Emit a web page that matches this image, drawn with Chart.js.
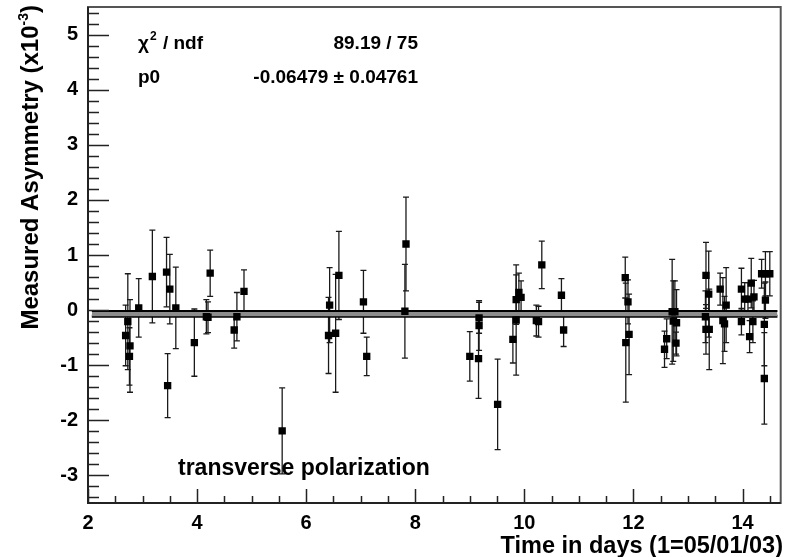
<!DOCTYPE html>
<html>
<head>
<meta charset="utf-8">
<title>Measured Asymmetry vs Time</title>
<script src="https://cdn.jsdelivr.net/npm/chart.js@4/dist/chart.umd.min.js"></script>
<style>
  html, body { margin: 0; padding: 0; background: #fff; }
  #wrap { position: relative; width: 789px; height: 557px; }
</style>
</head>
<body>
<div id="wrap"><canvas id="asym-chart" width="789" height="557"></canvas></div>
<script>
// Measured asymmetry (x10^-3) per run, transverse polarization
const days = [
    2.69, 2.73, 2.77, 2.76, 2.93, 3.18, 3.44, 3.50, 3.46, 3.61,
    3.95, 4.17, 4.20, 4.24, 4.68, 4.73, 4.86, 5.56, 6.43, 6.41,
    6.54, 6.60, 7.05, 7.11, 7.83, 7.81, 9.00, 9.16, 9.17, 9.17,
    9.51, 9.79, 9.85, 9.85, 9.90, 9.94, 10.22, 10.26, 10.32, 10.68,
    10.72, 11.85, 11.86, 11.90, 11.92, 12.57, 12.61, 12.71, 12.73, 12.76,
    12.79, 12.78, 13.33, 13.38, 13.32, 13.33, 13.39, 13.59, 13.64, 13.67,
    13.70, 13.98, 13.98, 14.04, 14.10, 14.16, 14.13, 14.19, 14.21, 14.35,
    14.42, 14.50, 14.42, 14.40, 14.40
];
const asym = [
    -0.46, -0.21, -0.65, -0.84, 0.04, 0.61, 0.69, 0.38, -1.37, 0.04,
    -0.59, -0.12, -0.13, 0.67, -0.36, -0.12, 0.34, -2.19, 0.09, -0.46,
    -0.42, 0.63, 0.15, -0.84, 1.20, -0.02, -0.84, -0.88, -0.14, -0.28,
    -1.71, -0.53, -0.18, 0.19, 0.32, 0.23, -0.19, -0.21, 0.82, 0.27,
    -0.36, 0.59, -0.59, 0.15, -0.44, -0.71, -0.52, -0.03, -0.20, -0.03,
    -0.23, -0.60, 0.63, 0.29, -0.12, -0.35, -0.35, 0.38, -0.19, -0.25,
    0.09, 0.38, -0.21, 0.20, 0.20, 0.49, -0.48, -0.21, 0.24, 0.66,
    0.66, 0.66, 0.18, -0.26, -1.24
];
const asymErr = [
    0.55, 0.87, 0.84, 0.52, 0.53, 0.84, 0.63, 0.63, 0.58, 0.74,
    0.61, 0.31, 0.28, 0.42, 0.33, 0.44, 0.39, 0.78, 0.68, 0.69,
    1.07, 0.80, 0.57, 0.35, 0.85, 0.85, 0.45, 0.72, 0.28, 0.45,
    0.82, 0.43, 1.00, 0.45, 0.35, 0.30, 0.28, 0.28, 0.43, 0.30,
    0.30, 0.37, 1.08, 0.40, 0.73, 0.33, 0.36, 0.95, 0.73, 0.56,
    0.60, 0.20, 0.60, 0.78, 0.47, 0.45, 0.73, 0.29, 0.78, 0.50,
    0.68, 0.38, 0.24, 0.30, 0.30, 0.45, 0.29, 0.38, 0.30, 0.26,
    0.40, 0.40, 0.33, 0.75, 0.83
];

const xTickValues = [2, 4, 6, 8, 10, 12, 14];
const yTickValues = [-3, -2, -1, 0, 1, 2, 3, 4, 5];

// constant fit result
const fitP0 = -0.06479;
const fitP0Err = 0.04761;
const fitRange = [2.07, 14.64];

const FONT = "'Liberation Sans', Arial, Helvetica, sans-serif";
Chart.defaults.font.family = FONT;

/**
 * Vertical error bars with small end caps, ROOT style
 */
const errorBarPlugin = {
    id: 'errorBars',
    beforeDatasetsDraw(chart) {
        const { ctx, chartArea: a, scales: { x, y } } = chart;
        ctx.save();
        ctx.beginPath();
        ctx.rect(a.left, a.top, a.right - a.left, a.bottom - a.top);
        ctx.clip();
        ctx.strokeStyle = '#1a1a1a';
        ctx.lineWidth = 1.3;
        days.forEach((d, i) => {
            const px = x.getPixelForValue(d);
            const top = y.getPixelForValue(asym[i] + asymErr[i]);
            const bot = y.getPixelForValue(asym[i] - asymErr[i]);
            ctx.beginPath();
            ctx.moveTo(px, top);
            ctx.lineTo(px, bot);
            ctx.moveTo(px - 3, top);
            ctx.lineTo(px + 3, top);
            ctx.moveTo(px - 3, bot);
            ctx.lineTo(px + 3, bot);
            ctx.stroke();
        });
        ctx.restore();
    }
};

/**
 * Frame plus inward ticks (ROOT look)
 */
const frameTicksPlugin = {
    id: 'frameTicks',
    afterDatasetsDraw(chart) {
        const { ctx, chartArea: a, scales: { x, y } } = chart;
        ctx.save();
        ctx.strokeStyle = '#222';
        ctx.lineWidth = 1.5;
        ctx.beginPath();
        // y ticks every 0.2, long ones on integers
        for (let k = -17; k <= 27; k++) {
            const py = Math.round(y.getPixelForValue(k * 0.2)) + 0.5;
            const len = (k % 5 === 0) ? 21 : 11;
            ctx.moveTo(a.left, py);
            ctx.lineTo(a.left + len, py);
        }
        // x ticks every 0.5, long ones on even days
        for (let k = 4; k <= 29; k++) {
            const px = Math.round(x.getPixelForValue(k * 0.5)) + 0.5;
            const len = (k % 4 === 0) ? 14 : 7;
            ctx.moveTo(px, a.bottom);
            ctx.lineTo(px, a.bottom - len);
        }
        ctx.stroke();

        ctx.strokeStyle = '#555';
        ctx.lineWidth = 2;
        ctx.strokeRect(a.left, a.top, a.right - a.left, a.bottom - a.top);
        // axis lines a bit darker
        ctx.strokeStyle = '#222';
        ctx.beginPath();
        ctx.moveTo(a.left, a.top);
        ctx.lineTo(a.left, a.bottom);
        ctx.lineTo(a.right, a.bottom);
        ctx.stroke();
        ctx.restore();
    }
};

/**
 * Axis titles, fit box and label
 */
const textPlugin = {
    id: 'texts',
    afterDraw(chart) {
        const { ctx } = chart;
        ctx.save();
        ctx.fillStyle = '#000';
        ctx.textBaseline = 'alphabetic';

        // x axis title, right aligned
        ctx.font = `bold 23.5px ${FONT}`;
        ctx.textAlign = 'right';
        ctx.fillText('Time in days (1=05/01/03)', 783, 553);

        // y axis title, rotated, ending near the top
        ctx.save();
        ctx.translate(38, 5);
        ctx.rotate(-Math.PI / 2);
        ctx.textAlign = 'left';
        const main = 'Measured Asymmetry (x10';
        const sup = '-3';
        const tail = ')';
        ctx.font = `bold 24px ${FONT}`;
        const wMain = ctx.measureText(main).width;
        const wTail = ctx.measureText(tail).width;
        ctx.font = `bold 14px ${FONT}`;
        const wSup = ctx.measureText(sup).width;
        let cx = -(wMain + wSup + wTail);
        ctx.font = `bold 24px ${FONT}`;
        ctx.fillText(main, cx, 0);
        cx += wMain;
        ctx.font = `bold 14px ${FONT}`;
        ctx.fillText(sup, cx, -10);
        cx += wSup;
        ctx.font = `bold 24px ${FONT}`;
        ctx.fillText(tail, cx, 0);
        ctx.restore();

        // fit statistics
        ctx.font = `bold 19px ${FONT}`;
        ctx.textAlign = 'left';
        ctx.fillText('\u03C7', 138, 49);
        const wChi = ctx.measureText('\u03C7').width;
        ctx.font = `bold 12px ${FONT}`;
        ctx.fillText('2', 138 + wChi + 1, 40);
        const w2 = ctx.measureText('2').width;
        ctx.font = `bold 19px ${FONT}`;
        ctx.fillText(' / ndf', 140 + wChi + w2, 49);
        ctx.fillText('p0', 138, 83);
        ctx.textAlign = 'right';
        ctx.fillText('89.19 / 75', 418, 49);
        ctx.fillText('-0.06479 \u00B1 0.04761', 418, 83);

        ctx.textAlign = 'left';
        ctx.font = `bold 23px ${FONT}`;
        ctx.fillText('transverse polarization', 178, 475);
        ctx.restore();
    }
};

const pointData = days.map((d, i) => ({ x: d, y: asym[i] }));

new Chart(document.getElementById('asym-chart'), {
    type: 'scatter',
    data: {
        datasets: [
            {
                label: 'Asymmetry',
                data: pointData,
                pointStyle: 'rect',
                pointRadius: 5.2,
                pointHoverRadius: 5.2,
                backgroundColor: '#000',
                borderColor: '#000',
                borderWidth: 0,
                order: 0
            },
            {
                label: 'fit upper',
                type: 'line',
                data: fitRange.map(v => ({ x: v, y: fitP0 + fitP0Err })),
                borderColor: '#000',
                borderWidth: 2,
                pointRadius: 0,
                fill: '+1',
                backgroundColor: '#8c8c8c',
                order: 1
            },
            {
                label: 'fit lower',
                type: 'line',
                data: fitRange.map(v => ({ x: v, y: fitP0 - fitP0Err })),
                borderColor: '#000',
                borderWidth: 3,
                pointRadius: 0,
                fill: false,
                order: 1
            }
        ]
    },
    options: {
        responsive: false,
        animation: false,
        devicePixelRatio: 1,
        layout: { padding: { top: 7, right: 8.3, left: 0, bottom: 0 } },
        plugins: {
            legend: { display: false },
            tooltip: { enabled: false }
        },
        scales: {
            x: {
                type: 'linear',
                min: 2,
                max: 14.7,
                grid: { display: false, drawTicks: false },
                border: { display: false },
                ticks: {
                    color: '#000',
                    font: { size: 20, weight: 'bold' },
                    padding: 8,
                    maxRotation: 0,
                    autoSkip: false
                },
                afterBuildTicks: s => { s.ticks = xTickValues.map(v => ({ value: v })); },
                afterFit: s => {
                    s.height = 54;
                    s.paddingLeft = 0;
                    s.paddingRight = 0;
                }
            },
            y: {
                type: 'linear',
                min: -3.5,
                max: 5.5,
                grid: { display: false, drawTicks: false },
                border: { display: false },
                ticks: {
                    color: '#000',
                    font: { size: 20, weight: 'bold' },
                    padding: 10,
                    autoSkip: false
                },
                afterBuildTicks: s => { s.ticks = yTickValues.map(v => ({ value: v })); },
                afterFit: s => {
                    s.width = 88;
                    s.paddingTop = 0;
                    s.paddingBottom = 0;
                }
            }
        }
    },
    plugins: [errorBarPlugin, frameTicksPlugin, textPlugin]
});
</script>
</body>
</html>
